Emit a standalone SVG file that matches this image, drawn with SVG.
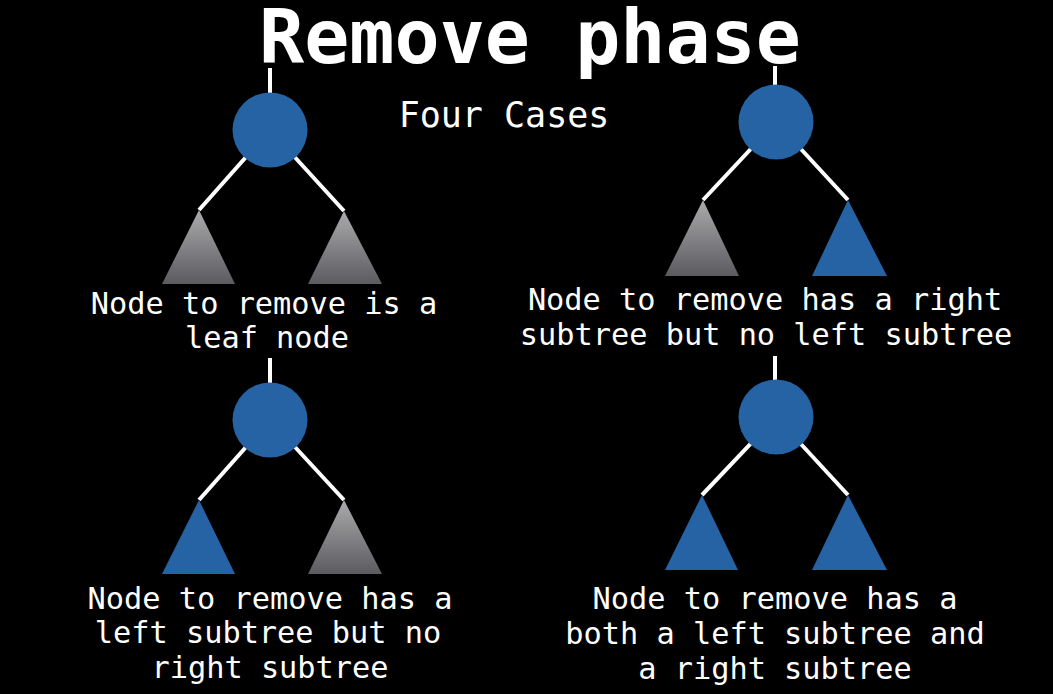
<svg xmlns="http://www.w3.org/2000/svg" width="1053" height="694" viewBox="0 0 1053 694">
  <defs>
    <linearGradient id="grayTree" x1="0" y1="0" x2="0" y2="1">
      <stop offset="0" stop-color="#ababad"/>
      <stop offset="1" stop-color="#5b5b60"/>
    </linearGradient>
    <style>
      .edge { stroke: #ffffff; stroke-width: 4; fill: none; }
      .node { fill: #2563a4; }
      .sub-blue { fill: #2563a4; }
      .sub-gray { fill: url(#grayTree); }
      .title { font-family: "DejaVu Sans Mono", "Liberation Mono", monospace; font-weight: bold; font-size: 75px; fill: #ffffff; text-anchor: middle; }
      .subtitle { font-family: "DejaVu Sans Mono", "Liberation Mono", monospace; font-size: 35px; fill: #ffffff; text-anchor: middle; }
      .label { font-family: "DejaVu Sans Mono", "Liberation Mono", monospace; font-size: 30.3px; fill: #ffffff; text-anchor: middle; }
    </style>
  </defs>

  <rect x="0" y="0" width="1053" height="694" fill="#000000"/>

  <text class="title" x="530" y="63">Remove phase</text>
  <text class="subtitle" x="504" y="127">Four Cases</text>

  <!-- parent links and child links -->
  <g id="connectors">
    <line class="edge" x1="270" y1="68" x2="270" y2="95"/>
    <line class="edge" x1="270" y1="130" x2="199" y2="210"/>
    <line class="edge" x1="270" y1="130" x2="344" y2="211"/>

    <line class="edge" x1="775" y1="66" x2="775" y2="88"/>
    <line class="edge" x1="776" y1="122" x2="703" y2="200"/>
    <line class="edge" x1="776" y1="122" x2="848" y2="200"/>

    <line class="edge" x1="270" y1="358" x2="270" y2="385"/>
    <line class="edge" x1="270" y1="420" x2="199" y2="500"/>
    <line class="edge" x1="270" y1="420" x2="344" y2="500"/>

    <line class="edge" x1="775" y1="356" x2="775" y2="383"/>
    <line class="edge" x1="776" y1="417" x2="702" y2="495"/>
    <line class="edge" x1="776" y1="417" x2="848" y2="495"/>
  </g>

  <!-- case 1: leaf -->
  <g id="case-leaf">
    <circle class="node" cx="270" cy="130" r="37.5"/>
    <polygon class="sub-gray" points="199,210 162,284 235,284"/>
    <polygon class="sub-gray" points="344,211 308,284 382,284"/>
    <text class="label" x="264" y="314">Node to remove is a</text>
    <text class="label" x="267" y="348">leaf node</text>
  </g>

  <!-- case 2: right subtree only -->
  <g id="case-right">
    <circle class="node" cx="776" cy="122" r="37.5"/>
    <polygon class="sub-gray" points="703,200 665,276 739,276"/>
    <polygon class="sub-blue" points="848,200 812,276 887,276"/>
    <text class="label" x="765" y="310">Node to remove has a right</text>
    <text class="label" x="766" y="345">subtree but no left subtree</text>
  </g>

  <!-- case 3: left subtree only -->
  <g id="case-left">
    <circle class="node" cx="270" cy="420" r="37.5"/>
    <polygon class="sub-blue" points="199,500 162,574 235,574"/>
    <polygon class="sub-gray" points="344,500 308,574 382,574"/>
    <text class="label" x="270" y="609">Node to remove has a</text>
    <text class="label" x="268" y="643">left subtree but no</text>
    <text class="label" x="270" y="678">right subtree</text>
  </g>

  <!-- case 4: both subtrees -->
  <g id="case-both">
    <circle class="node" cx="776" cy="417" r="37.5"/>
    <polygon class="sub-blue" points="702,495 665,570 738,570"/>
    <polygon class="sub-blue" points="848,495 812,570 887,570"/>
    <text class="label" x="775" y="609">Node to remove has a</text>
    <text class="label" x="775" y="644">both a left subtree and</text>
    <text class="label" x="775" y="679">a right subtree</text>
  </g>
</svg>
